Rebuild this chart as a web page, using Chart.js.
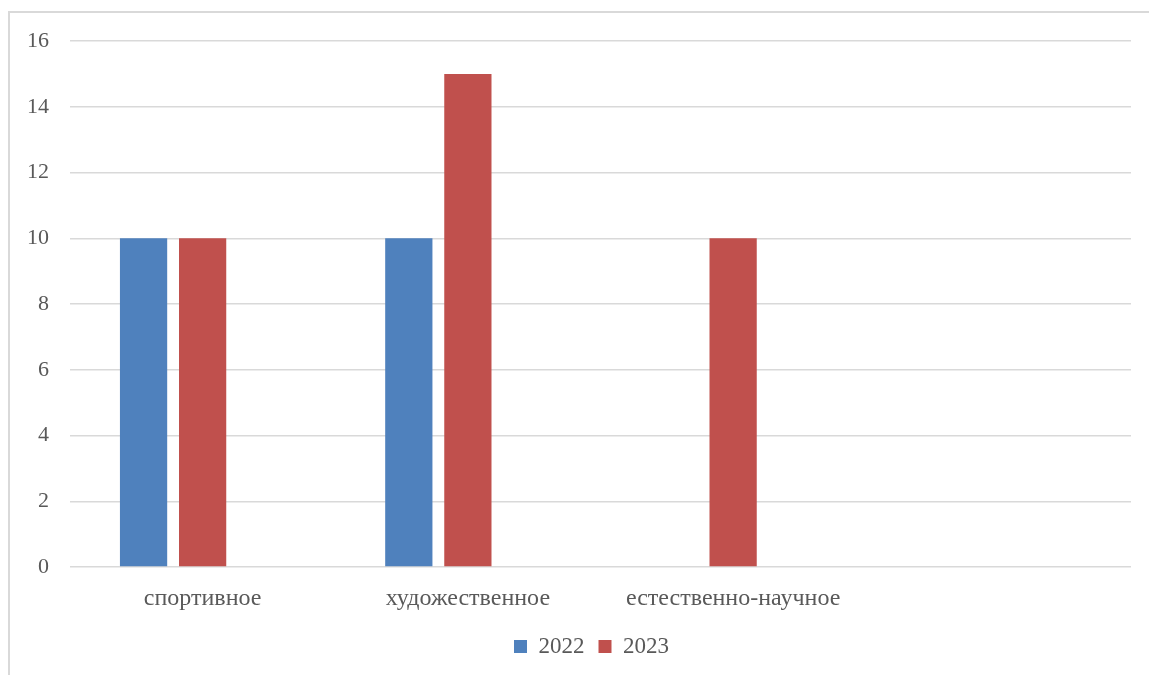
<!DOCTYPE html>
<html>
<head>
<meta charset="utf-8">
<script src="https://cdn.jsdelivr.net/npm/chart.js@4/dist/chart.umd.min.js"></script>
<style>
  html, body { margin: 0; padding: 0; background: #fff; overflow: hidden; }
  #frame { position: absolute; left: 8px; top: 11px; width: 1200px; height: 700px;
           border-top: 2px solid #d9d9d9; border-left: 2px solid #d9d9d9; }
  #wrap { position: absolute; left: 0; top: 0; width: 1149px; height: 675px; }
</style>
</head>
<body>
<div id="frame"></div>
<div id="wrap"><canvas id="chart"></canvas></div>
<script>
const categories = ['спортивное', 'художественное', 'естественно-научное', ''];
const series2022 = [10, 10, null, null];
const series2023 = [10, 15, 10, null];
const series3 = [null, null, null, null]; // empty third series in the original
const yTicks = [0, 2, 4, 6, 8, 10, 12, 14, 16];

const FONT = '"Liberation Serif", "Times New Roman", serif';

// nudge the legend a bit right, like the original
const legendShift = {
  id: 'legendShift',
  afterLayout(chart) {
    const lg = chart.legend;
    if (!lg) return;
    lg.left += 26; lg.right += 26;
    if (lg.legendHitBoxes) lg.legendHitBoxes.forEach(b => { b.left += 26; });
  }
};

function renderChart() {
  const ctx = document.getElementById('chart');
  new Chart(ctx, {
    type: 'bar',
    data: {
      labels: categories,
      datasets: [
        { label: '2022', data: series2022, backgroundColor: '#4f81bd' },
        { label: '2023', data: series2023, backgroundColor: '#c0504d' },
        { label: '', data: series3, backgroundColor: '#9bbb59' }
      ]
    },
    options: {
      responsive: true,
      maintainAspectRatio: false,
      animation: false,
      datasets: { bar: { categoryPercentage: 0.668, barPercentage: 0.8 } },
      layout: { padding: { top: 41, right: 18, left: 0, bottom: 7 } },
      plugins: {
        tooltip: { enabled: false },
        legend: {
          position: 'bottom',
          labels: {
            filter: item => item.text !== '',
            boxWidth: 13, boxHeight: 13, padding: 14,
            color: '#595959',
            font: { family: FONT, size: 23 }
          }
        }
      },
      scales: {
        y: {
          min: 0, max: 16,
          afterBuildTicks: s => { s.ticks = yTicks.map(v => ({ value: v })); },
          afterFit: s => { s.width = 70; },
          border: { display: false },
          grid: { color: '#d9d9d9', lineWidth: 1.5, drawTicks: false },
          ticks: { padding: 21, color: '#595959', font: { family: FONT, size: 22 } }
        },
        x: {
          afterFit: s => { s.height = 54; },
          border: { display: false },
          grid: { display: false },
          ticks: { padding: 9, maxRotation: 0, color: '#595959', font: { family: FONT, size: 24 } }
        }
      }
    },
    plugins: [legendShift]
  });
}

renderChart();
</script>
</body>
</html>
